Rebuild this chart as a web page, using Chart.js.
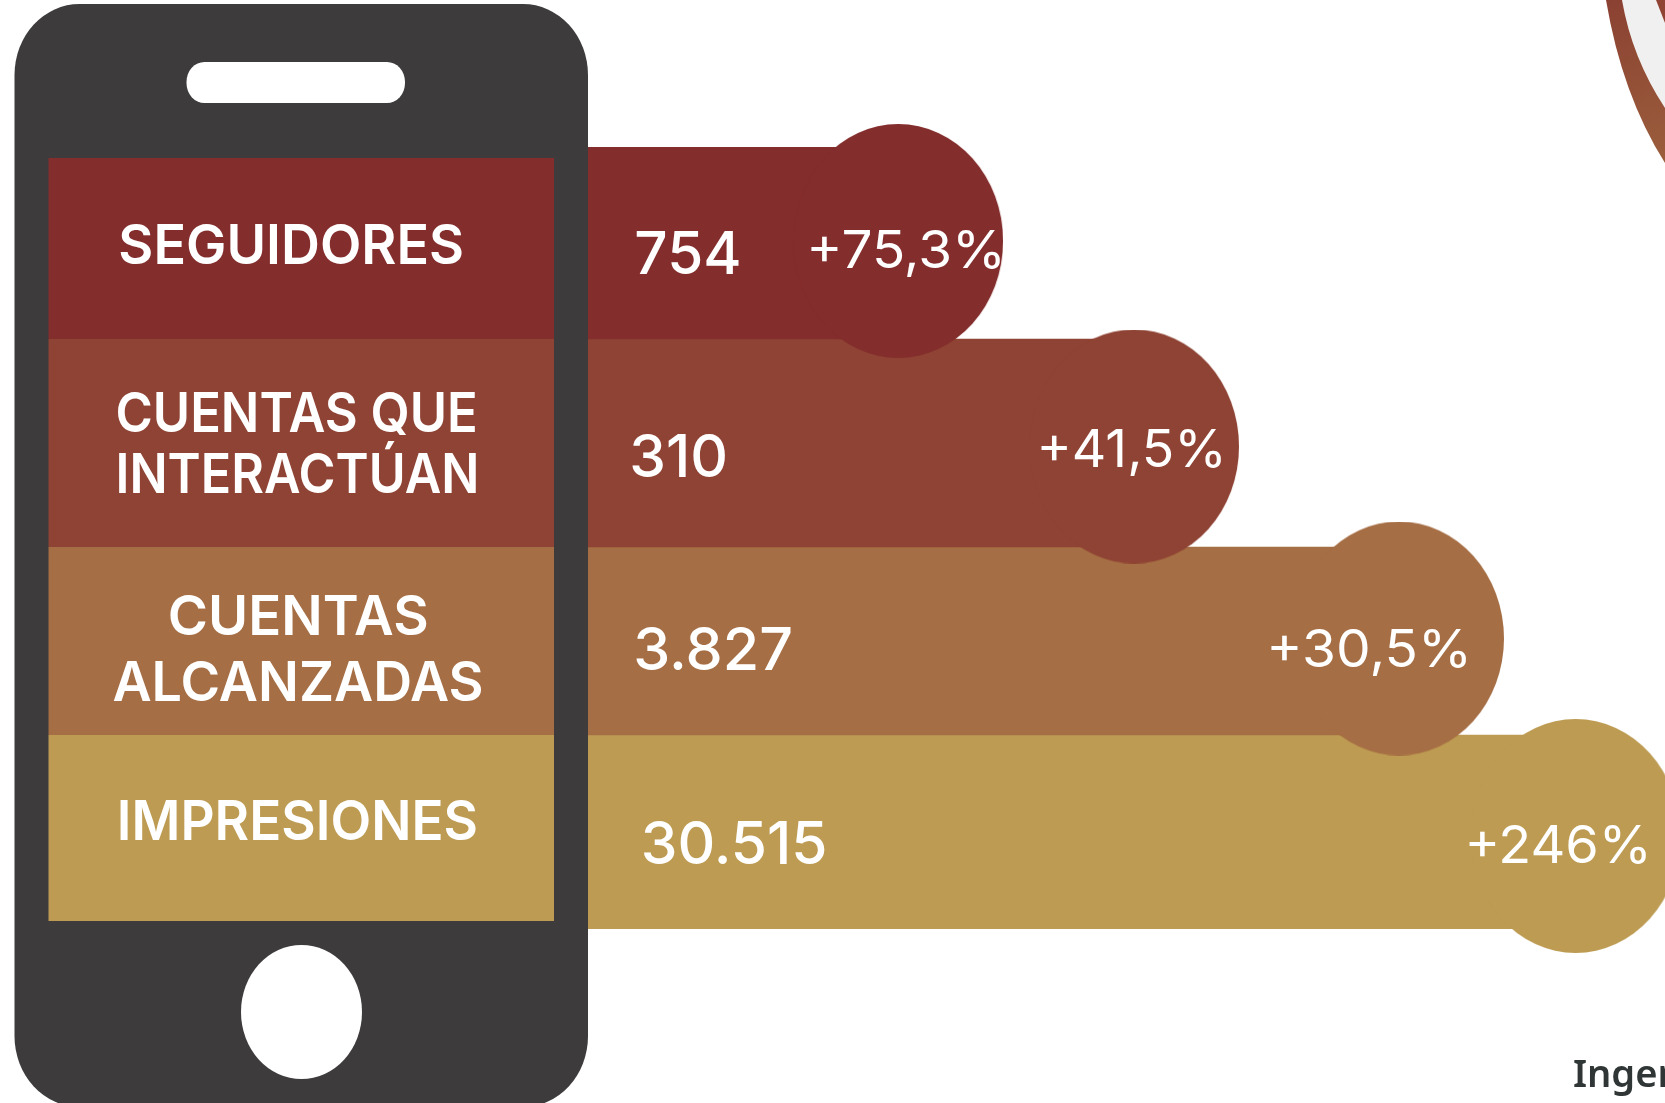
<!DOCTYPE html>
<html lang="es">
<head>
<meta charset="utf-8">
<title>Seguidores, cuentas e impresiones</title>
<script src="https://cdn.jsdelivr.net/npm/chart.js@4"></script>
<style>
  html, body { margin: 0; padding: 0; background: #fff; overflow: hidden; }
  canvas { display: block; }
</style>
</head>
<body>
<canvas id="chart" width="1665" height="1103"></canvas>
<script>
// Data
const categories = [['SEGUIDORES'], ['CUENTAS QUE', 'INTERACTÚAN'], ['CUENTAS', 'ALCANZADAS'], ['IMPRESIONES']];
const valueLabels = ['754', '310', '3.827', '30.515'];
const changeLabels = ['+75,3%', '+41,5%', '+30,5%', '+246%'];
// how far each band runs, as % of the width right of the phone
const barReach = [28.8, 50.7, 75.3, 91.7];
const rowColors = ['#842d2d', '#8f4334', '#a66e44', '#bd9b52'];

// Layout of the infographic (not data)
const rowEdges = [0, 192, 400, 588, 782];
const blobCentres = [94, 299.5, 491.5, 689];
const BLOB_RX = 105, BLOB_RY = 117;
const Y_STRETCH = 1.1;
const screenEdges = [158, 339, 547, 735, 921];
const categoryText = [
  [{x: 120.5, w: 342, y: 264}],
  [{x: 117.5, w: 358, y: 432}, {x: 118.5, w: 358, y: 493}],
  [{x: 170, w: 257, y: 635}, {x: 113.5, w: 368.5, y: 701}],
  [{x: 120, w: 356.5, y: 840}]
];
const valueText = [
  {x: 636.5, w: 102.5, y: 274}, {x: 632.5, w: 92.5, y: 477},
  {x: 636.5, w: 154.5, y: 670}, {x: 644, w: 181, y: 864}
];
const changeText = [
  {x: 811, w: 189, y: 268}, {x: 1041, w: 180, y: 467},
  {x: 1271, w: 195, y: 667}, {x: 1469, w: 177, y: 863}
];

function makeBlob(color){
  const c = document.createElement('canvas');
  c.width = BLOB_RX * 2;
  c.height = BLOB_RY * 2;
  const g = c.getContext('2d');
  g.fillStyle = color;
  g.beginPath();
  g.ellipse(BLOB_RX, BLOB_RY, BLOB_RX, BLOB_RY, 0, 0, Math.PI * 2);
  g.fill();
  return c;
}

// text squeezed to the width it has in the picture, stretched like the source image
function putText(ctx, str, box, font, color){
  ctx.save();
  ctx.font = font;
  ctx.fillStyle = color;
  ctx.textBaseline = 'alphabetic';
  ctx.textAlign = 'left';
  const m = ctx.measureText(str);
  const ink = m.actualBoundingBoxRight + m.actualBoundingBoxLeft;
  ctx.translate(box.x, box.y);
  ctx.scale(box.w / ink, Y_STRETCH);
  ctx.fillText(str, m.actualBoundingBoxLeft, 0);
  ctx.restore();
}

// Ring of the next graphic, cut off by the top right corner, and the cropped word under it
const backdropPlugin = {
  id: 'backdrop',
  beforeDatasetsDraw(chart){
    const ctx = chart.ctx;
    ctx.save();
    ctx.fillStyle = '#f0f0f0';
    ctx.beginPath();
    ctx.moveTo(1622, 0);
    ctx.quadraticCurveTo(1632, 58, 1665, 108);
    ctx.lineTo(1665, 23);
    ctx.lineTo(1656, 0);
    ctx.closePath();
    ctx.fill();
    const grad = ctx.createLinearGradient(1610, 0, 1660, 165);
    grad.addColorStop(0, '#8b4132');
    grad.addColorStop(1, '#9b5e3c');
    ctx.fillStyle = grad;
    ctx.beginPath();
    ctx.moveTo(1606, 0);
    ctx.quadraticCurveTo(1622, 95, 1665, 163);
    ctx.lineTo(1665, 108);
    ctx.quadraticCurveTo(1632, 58, 1622, 0);
    ctx.closePath();
    ctx.fill();
    ctx.fillStyle = '#8f4433';
    ctx.beginPath();
    ctx.moveTo(1656, 0);
    ctx.lineTo(1665, 23);
    ctx.lineTo(1665, 0);
    ctx.closePath();
    ctx.fill();
    ctx.restore();
    putText(ctx, 'Ingen', {x: 1574, w: 106, y: 1087}, '600 34px "Noto Sans"', '#2f3635');
  }
};

// Phone body, screen rows and all the labels go above the bands
const phonePlugin = {
  id: 'phone',
  afterDatasetsDraw(chart){
    const ctx = chart.ctx;
    ctx.save();
    ctx.fillStyle = '#3d3b3c';
    ctx.beginPath();
    ctx.roundRect(14.5, 4, 573.5, 1103, [{x: 65, y: 71}]);
    ctx.fill();
    ctx.fillStyle = '#fff';
    ctx.beginPath();
    ctx.roundRect(186.5, 62, 218.5, 41, [{x: 18, y: 20}]);
    ctx.fill();
    ctx.beginPath();
    ctx.ellipse(301.5, 1012, 60.5, 67, 0, 0, Math.PI * 2);
    ctx.fill();
    rowColors.forEach((color, i) => {
      ctx.fillStyle = color;
      ctx.fillRect(48.5, screenEdges[i], 505.5, screenEdges[i + 1] - screenEdges[i]);
    });
    ctx.restore();

    categories.forEach((lines, i) => {
      lines.forEach((line, j) => putText(ctx, line, categoryText[i][j], '600 50px Inter', '#fff'));
      putText(ctx, valueLabels[i], valueText[i], '500 54px Inter', '#fff');
      putText(ctx, changeLabels[i], changeText[i], '400 47px Inter', '#fff');
    });
  }
};

const datasets = [];
rowColors.forEach((color, i) => {
  datasets.push({
    type: 'scatter',
    label: changeLabels[i],
    data: [{x: barReach[i], y: blobCentres[i]}],
    pointStyle: makeBlob(color),
    pointRadius: BLOB_RX,
    clip: false,
    order: i * 2
  });
  datasets.push({
    type: 'bar',
    label: categories[i].join(' '),
    indexAxis: 'y',
    stack: 'rows',
    data: [{x: barReach[i], y: (rowEdges[i] + rowEdges[i + 1]) / 2}],
    backgroundColor: color,
    borderWidth: 0,
    barThickness: rowEdges[i + 1] - rowEdges[i],
    order: i * 2 + 1
  });
});

new Chart(document.getElementById('chart').getContext('2d'), {
  type: 'bar',
  data: { datasets },
  plugins: [backdropPlugin, phonePlugin],
  options: {
    responsive: false,
    animation: false,
    events: [],
    layout: { autoPadding: false, padding: { left: 588, top: 147, right: 0, bottom: 174 } },
    plugins: { legend: { display: false }, tooltip: { enabled: false } },
    scales: {
      x: { type: 'linear', min: 0, max: 100, offset: false, stacked: false, display: false },
      y: { type: 'linear', min: 0, max: 782, offset: false, reverse: true, display: false }
    }
  }
});
</script>
</body>
</html>
